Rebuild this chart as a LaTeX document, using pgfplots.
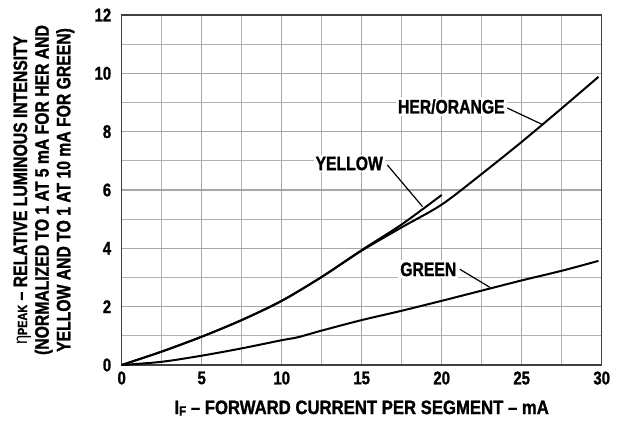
\documentclass[border=0pt]{standalone}
\usepackage{fontspec}
\setmainfont{Liberation Sans}[UprightFont=* Bold, BoldFont=* Bold, FakeStretch=0.81, FakeBold=1.2]
\newfontfamily\widefont{Liberation Sans}[UprightFont=* Bold, BoldFont=* Bold, FakeStretch=0.86, FakeBold=1.2, Ligatures=TeX]
\newfontfamily\etafont{Liberation Sans}[FakeStretch=0.85]
\usepackage{pgfplots}
\pgfplotsset{compat=1.18}

\pgfplotstableread{
x y
0 0
2.5 0.46
5 0.97
7.5 1.54
10 2.2
12.5 3.02
15 3.92
17.5 4.72
20 5.5
22.5 6.55
25 7.65
27.5 8.8
29.8 9.88
}\herorange

\pgfplotstableread{
x y
0 0
2.5 0.46
5 0.97
7.5 1.54
10 2.2
12.5 3.02
15 3.94
17.5 4.82
20 5.83
}\yellow

\pgfplotstableread{
x y
0 0
2.5 0.11
5 0.32
7.5 0.57
10 0.85
11 0.95
12.5 1.18
15 1.54
17.5 1.86
20 2.2
22.5 2.55
25 2.9
27.5 3.23
29.8 3.57
}\green

\begin{document}
\begin{tikzpicture}
\path[use as bounding box] (-121.7bp,-60bp) rectangle (504.3bp,365bp);
\begin{axis}[
  at={(0,0)}, anchor=south west,
  width=480bp, height=350bp, scale only axis,
  xmin=0, xmax=30, ymin=0, ymax=12,
  xtick={0,5,...,30}, ytick={0,2,...,12},
  minor x tick num=1, minor y tick num=1,
  grid=both,
  major grid style={line width=1.1bp, color=black!35},
  minor grid style={line width=1.1bp, color=black!30},
  axis line style={line width=1.4bp, color=black!75},
  major tick length=0pt, minor tick length=0pt,
  /pgf/number format/assume math mode=true,
  tick label style={font=\fontsize{18.5}{20}\selectfont},
  yticklabel style={xshift=-7bp},
  xticklabel style={yshift=-3bp},
  label style={font=\fontsize{19.5}{21.7}\selectfont},
  xlabel={\widefont I\raisebox{-0.15ex}{\fontsize{13.5}{13.5}\selectfont F} – FORWARD CURRENT PER SEGMENT – mA},
  xlabel style={at={(axis description cs:0.5,-0.123)}, anchor=center},
  ylabel={{\etafont η}{\fontsize{13.5}{13.5}\selectfont PEAK} – RELATIVE LUMINOUS INTENSITY\\(NORMALIZED TO 1 AT 5 mA FOR HER AND\\YELLOW AND TO 1 AT 10 mA FOR GREEN)},
  ylabel style={at={(axis description cs:-0.162,0.5)}, anchor=center, align=center},
]
\addplot[black, line width=2bp, smooth] table {\herorange};
\addplot[black, line width=2bp, smooth] table {\yellow};
\addplot[black, line width=2bp, smooth] table {\green};

\draw[line width=1.2bp] (axis cs:24.1,8.81) -- (axis cs:26.35,8.23);
\draw[line width=1.2bp] (axis cs:16.6,6.86) -- (axis cs:18.8,5.43);
\draw[line width=1.2bp] (axis cs:21.14,3.28) -- (axis cs:23.02,2.66);

\node[fill=white, inner sep=2bp, font=\fontsize{19.5}{20}\selectfont] at (axis cs:20.6,8.86) {HER/ORANGE};
\node[fill=white, inner sep=2bp, font=\fontsize{19.5}{20}\selectfont] at (axis cs:14.22,6.91) {YELLOW};
\node[fill=white, inner sep=2bp, font=\fontsize{19.5}{20}\selectfont] at (axis cs:19.16,3.28) {GREEN};
\end{axis}
\end{tikzpicture}
\end{document}
